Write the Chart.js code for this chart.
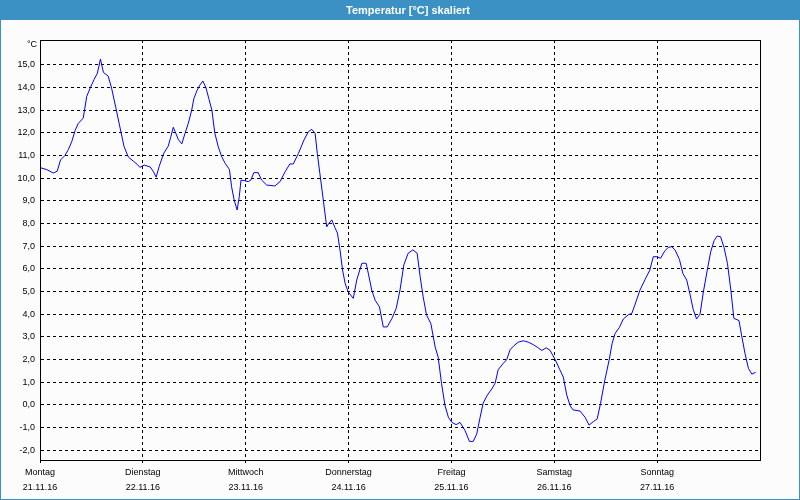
<!DOCTYPE html>
<html><head><meta charset="utf-8">
<script src="https://cdn.jsdelivr.net/npm/chart.js@4"></script>
<style>html,body{margin:0;padding:0;background:#fbfcfb;} canvas{display:block}</style>
</head><body>
<canvas id="c" width="800" height="500"></canvas>
<script>
const chartTitle = 'Temperatur [°C] skaliert';
const unitLabel = '°C';
const dayNames = ['Montag','Dienstag','Mittwoch','Donnerstag','Freitag','Samstag','Sonntag'];
const dayDates = ['21.11.16','22.11.16','23.11.16','24.11.16','25.11.16','26.11.16','27.11.16'];
const yTickValues = [-2,-1,0,1,2,3,4,5,6,7,8,9,10,11,12,13,14,15];
// hours since Montag 00:00
const hours = [0.0,1.6,3.1,4.0,4.8,5.8,6.6,7.4,8.2,8.9,10.1,10.9,11.7,12.6,13.4,14.1,14.8,15.9,16.7,17.7,18.7,19.6,20.6,21.8,22.7,23.3,
24.3,25.7,26.4,27.1,27.8,28.9,29.9,30.5,31.1,31.5,32.3,33.1,33.8,34.6,35.4,35.9,36.6,37.3,38.0,38.7,39.4,40.1,40.8,41.6,42.4,43.2,44.2,44.7,45.3,46.0,46.5,46.9,47.8,
48.6,49.2,49.9,50.9,51.7,52.9,54.8,56.0,57.2,58.3,59.1,60.3,61.6,62.6,63.4,64.2,64.7,65.3,66.1,66.9,67.4,68.1,68.8,69.4,70.0,70.6,71.2,71.9,
73.1,73.9,75.1,76.1,76.6,77.4,78.2,79.2,80.1,81.0,82.1,83.1,84.0,84.9,85.9,87.0,88.0,88.7,89.4,90.2,91.2,92.2,92.9,93.7,94.5,95.3,
96.1,97.1,98.0,99.2,100.2,101.1,101.9,102.7,103.4,104.4,105.4,106.2,106.9,108.0,108.9,109.7,110.6,111.6,112.8,113.9,115.1,116.0,117.1,118.1,119.0,
120.2,121.3,122.1,122.9,123.7,124.4,126.0,127.2,128.1,129.1,130.0,130.8,131.8,132.8,133.5,134.2,135.2,136.1,137.3,138.1,138.8,140.0,141.2,142.3,143.1,
143.9,144.8,145.8,146.6,147.4,148.2,149.2,150.0,150.9,151.7,152.4,153.2,154.0,154.8,155.7,156.5,157.3,158.0,158.8,159.6,160.4,161.2,161.9,163.1,163.7,164.5,165.3,166.1,167.0];
const temps = [10.46,10.37,10.22,10.30,10.80,10.99,11.25,11.60,12.10,12.40,12.65,13.60,13.97,14.34,14.63,15.25,14.66,14.50,13.97,13.10,12.20,11.40,10.93,10.74,10.60,10.47,
10.57,10.49,10.30,10.04,10.51,11.10,11.40,11.80,12.24,12.06,11.69,11.51,11.95,12.41,13.00,13.50,13.85,14.10,14.28,14.00,13.50,13.00,11.97,11.38,10.94,10.65,10.38,9.62,9.03,8.59,9.18,9.91,9.88,
9.84,9.91,10.24,10.24,9.91,9.69,9.65,9.84,10.28,10.62,10.62,11.09,11.68,12.04,12.15,11.97,11.09,10.21,9.03,7.85,8.00,8.15,7.82,7.57,6.83,5.94,5.35,4.98,
4.69,5.50,6.24,6.24,5.80,5.06,4.61,4.32,3.43,3.43,3.80,4.24,5.06,6.17,6.68,6.83,6.68,5.65,4.76,3.95,3.58,2.55,2.10,0.92,-0.04,-0.56,
-0.78,-0.88,-0.78,-1.15,-1.62,-1.62,-1.29,-0.55,0.07,0.43,0.69,0.95,1.54,1.80,1.99,2.43,2.61,2.76,2.82,2.76,2.65,2.54,2.39,2.51,2.40,
1.99,1.54,1.22,0.43,-0.05,-0.23,-0.28,-0.56,-0.90,-0.75,-0.63,0.06,1.09,1.97,2.71,3.15,3.41,3.78,3.97,4.03,4.40,5.06,5.53,5.94,6.53,
6.53,6.46,6.79,6.94,6.97,6.82,6.41,5.79,5.50,4.84,4.21,3.78,3.99,4.99,5.94,6.75,7.24,7.44,7.41,6.94,6.24,5.06,3.81,3.71,3.07,2.26,1.60,1.35,1.43];

const FONT = '"Liberation Sans", Arial, sans-serif';
const BLUE = '#3b91c4';

const framePlugin = {
  id: 'frame',
  beforeDraw(chart) {
    const ctx = chart.ctx;
    ctx.save();
    ctx.fillStyle = '#fbfcfb';
    ctx.fillRect(0, 0, 800, 500);
    ctx.fillStyle = BLUE;
    ctx.fillRect(0, 0, 800, 20);
    ctx.strokeStyle = BLUE;
    ctx.lineWidth = 1;
    ctx.strokeRect(0.5, 0.5, 799, 499);
    ctx.fillStyle = '#ffffff';
    ctx.font = 'bold 11px ' + FONT;
    ctx.textAlign = 'center';
    ctx.textBaseline = 'middle';
    ctx.fillText(chartTitle, 408, 10.5);
    ctx.fillStyle = '#000000';
    ctx.font = '9px ' + FONT;
    ctx.textAlign = 'right';
    ctx.fillText(unitLabel, 37, 45);
    ctx.restore();
  },
  afterDraw(chart) {
    const a = chart.chartArea;
    const ctx = chart.ctx;
    ctx.save();
    ctx.strokeStyle = '#000000';
    ctx.lineWidth = 1;
    ctx.setLineDash([]);
    ctx.strokeRect(Math.round(a.left) + 0.5, Math.round(a.top) + 0.5, Math.round(a.right - a.left), Math.round(a.bottom - a.top));
    ctx.restore();
  }
};

new Chart(document.getElementById('c'), {
  type: 'line',
  data: {
    datasets: [{
      data: hours.map((h, i) => ({x: h, y: temps[i]})),
      borderColor: '#0000ff',
      borderWidth: 1,
      pointRadius: 0,
      tension: 0,
      fill: false
    }]
  },
  options: {
    responsive: false,
    animation: false,
    layout: {padding: {top: 40, right: 40, left: 0, bottom: 0}},
    plugins: {legend: {display: false}, tooltip: {enabled: false}, title: {display: false}},
    scales: {
      x: {
        type: 'linear', min: 0, max: 168,
        afterBuildTicks: s => { s.ticks = dayNames.map((d, i) => ({value: i * 24})); },
        afterFit: s => { s.height = 40; },
        ticks: {
          autoSkip: false, maxRotation: 0, padding: 2.5, color: '#000000',
          font: {family: FONT, size: 9, lineHeight: 15 / 9},
          callback: v => [dayNames[Math.round(v / 24)], dayDates[Math.round(v / 24)]]
        },
        grid: {color: '#000000', lineWidth: 1, tickLength: 3, drawTicks: true},
        border: {display: true, color: '#000000', width: 1, dash: [3, 3]}
      },
      y: {
        min: -2.44, max: 16.09,
        afterBuildTicks: s => { s.ticks = yTickValues.map(v => ({value: v})); },
        afterFit: s => { s.width = 40; },
        ticks: {
          padding: 5, color: '#000000',
          font: {family: FONT, size: 9},
          callback: v => v.toFixed(1).replace('.', ',')
        },
        grid: {color: '#000000', lineWidth: 1, drawTicks: false},
        border: {display: true, color: '#000000', width: 1, dash: [3, 3]}
      }
    }
  },
  plugins: [framePlugin]
});
</script>
</body></html>
